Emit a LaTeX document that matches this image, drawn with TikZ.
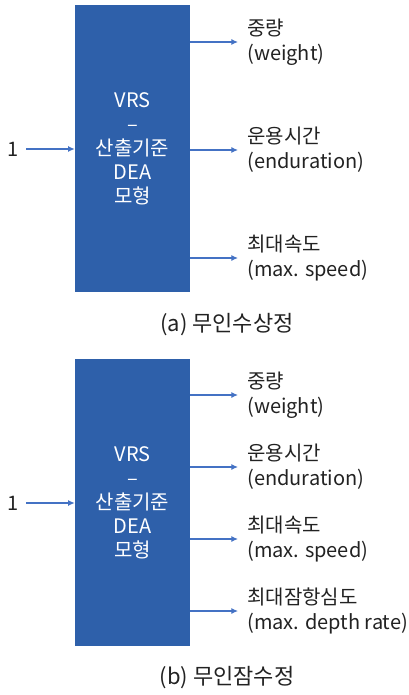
\documentclass[tikz,border=0pt]{standalone}
\usepackage{fontspec}
\setmainfont{Noto Sans CJK KR}
\usetikzlibrary{arrows.meta}
\definecolor{boxblue}{HTML}{2E60AA}
\definecolor{arrblue}{HTML}{4472C4}
\definecolor{txt}{HTML}{222222}
\tikzset{
  blk/.style={rectangle, fill=boxblue, draw=none, minimum width=86.25pt, minimum height=215.25pt,
    text=white, align=center, font=\fontsize{15pt}{18pt}\selectfont},
  lab/.style={anchor=west, align=left, inner xsep=6.75pt, inner ysep=0pt, text=txt,
    font=\fontsize{15pt}{18.5pt}\selectfont},
  inp/.style={inner sep=0pt, text=txt, font=\fontsize{15pt}{18pt}\selectfont},
  captext/.style={text=txt, font=\fontsize{16.5pt}{19pt}\selectfont},
  arr/.style={arrblue, line width=0.8pt, -{Latex[length=5pt,width=4.5pt]}}
}
\begin{document}
\begin{tikzpicture}[x=0.75pt,y=-0.75pt]
\useasboundingbox (0,0) rectangle (409,695);
% (a)
\node[blk] (boxa) at (132.5,148.5) {VRS\\–\\산출기준\\DEA\\모형};
\node[inp] (onea) at (13,149) {1};
\coordinate (ina) at (26,149);
\draw[arr] (ina) -- (boxa.west |- ina);
\node[lab] (a1) at (238,42) {중량\\(weight)};
\node[lab] (a2) at (238,150) {운용시간\\(enduration)};
\node[lab] (a3) at (238,258) {최대속도\\(max. speed)};
\foreach \n in {a1,a2,a3} \draw[arr] (boxa.east |- \n.west) -- (\n.west);
\node[captext] (capa) at (227,325) {(a) 무인수상정};
% (b)
\node[blk] (boxb) at (132.5,502.5) {VRS\\–\\산출기준\\DEA\\모형};
\node[inp] (oneb) at (13,503) {1};
\coordinate (inb) at (26,503);
\draw[arr] (inb) -- (boxb.west |- inb);
\node[lab] (b1) at (238,395) {중량\\(weight)};
\node[lab] (b2) at (238,467) {운용시간\\(enduration)};
\node[lab] (b3) at (238,539) {최대속도\\(max. speed)};
\node[lab] (b4) at (238,611) {최대잠항심도\\(max. depth rate)};
\foreach \n in {b1,b2,b3,b4} \draw[arr] (boxb.east |- \n.west) -- (\n.west);
\node[captext] (capb) at (227,678) {(b) 무인잠수정};
\end{tikzpicture}
\end{document}
